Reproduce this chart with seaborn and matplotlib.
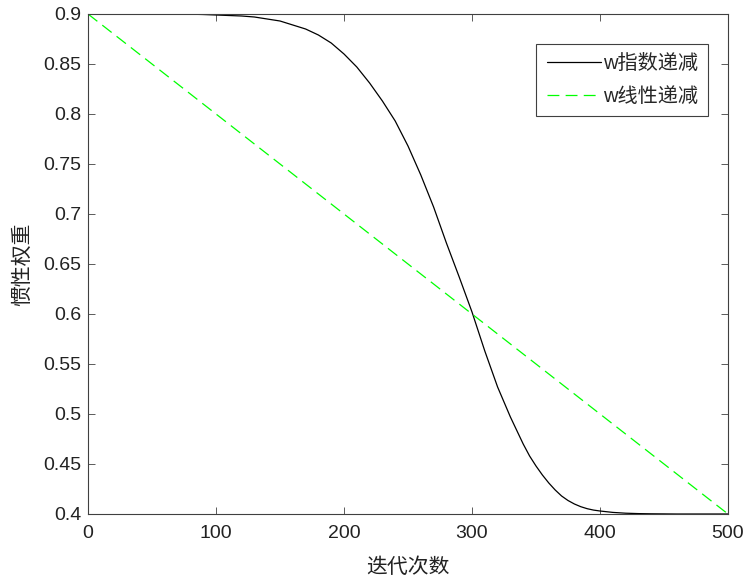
import matplotlib
matplotlib.use('Agg')
import matplotlib.pyplot as plt
import seaborn as sns

# iterations and weights
iters = [0, 10, 20, 30, 40, 50, 60, 70, 80, 90,
         100, 110, 120, 130, 140, 150, 160, 170, 180, 190,
         200, 210, 220, 230, 240, 250, 260, 270, 280, 290,
         300, 310, 320, 330, 340, 345, 350, 355, 360, 365, 370, 375, 380, 385, 390,
         395, 400, 410, 420, 430, 440, 450, 460, 470, 480, 490, 500]
w_exp = [0.9, 0.9, 0.9, 0.9, 0.9, 0.9, 0.9, 0.8999, 0.8998, 0.8995,
         0.899, 0.8985, 0.898, 0.897, 0.895, 0.893, 0.889, 0.885, 0.879, 0.871,
         0.860, 0.847, 0.831, 0.813, 0.793, 0.768, 0.739, 0.707, 0.671, 0.637,
         0.602, 0.563, 0.527, 0.497, 0.470, 0.458, 0.448, 0.439, 0.431, 0.424, 0.418, 0.4135, 0.410, 0.4073, 0.4053,
         0.4039, 0.403, 0.4016, 0.4008, 0.4004, 0.4002, 0.4001, 0.4, 0.4, 0.4, 0.4, 0.4]
lin_iters = [0, 500]
w_lin = [0.9, 0.4]

labels = ['w指数递减', 'w线性递减']
xticks = [0, 100, 200, 300, 400, 500]
yticks = [0.4, 0.45, 0.5, 0.55, 0.6, 0.65, 0.7, 0.75, 0.8, 0.85, 0.9]

sns.set_style('ticks')
plt.rcParams['font.family'] = ['Liberation Sans', 'Noto Sans CJK SC']
plt.rcParams['axes.unicode_minus'] = False

fig = plt.figure(figsize=(7.46, 5.78), dpi=100)
ax = fig.add_axes([88 / 746, 1 - 514 / 578, 640 / 746, 500 / 578])

sns.lineplot(x=iters, y=w_exp, color='black', linewidth=0.9, label=labels[0], ax=ax)
sns.lineplot(x=lin_iters, y=w_lin, color='#00ff00', linewidth=0.9, label=labels[1], ax=ax,
             dashes=False)
ax.lines[1].set_dashes((9.5, 5))

ax.set_xlim(0, 500)
ax.set_ylim(0.4, 0.9)
ax.set_xticks(xticks)
ax.set_yticks(yticks)
ax.set_yticklabels([f'{v:g}' for v in yticks])
ax.tick_params(direction='in', length=5, width=0.6, color='#404040', labelsize=14,
               top=True, right=True, labelcolor='#222222')
ax.tick_params(axis='x', pad=8)
ax.tick_params(axis='y', pad=5)
for s in ax.spines.values():
    s.set_color('#404040')
    s.set_linewidth(0.8)

ax.set_xlabel('迭代次数', fontsize=15, family=['Noto Sans CJK SC'], labelpad=10, color='#222222')
ax.set_ylabel('惯性权重', fontsize=15, family=['Noto Sans CJK SC'], labelpad=7, color='#222222')

leg = ax.legend(loc='upper right', bbox_to_anchor=((708 - 88) / 640, 1 - 30 / 500),
                borderaxespad=0, fontsize=14.5,
                frameon=True, fancybox=False, framealpha=1, edgecolor='#404040',
                handlelength=2.7, handletextpad=0.1, borderpad=0.5, labelspacing=0.7)
leg.get_frame().set_linewidth(0.8)

fig.savefig('out.png', dpi=100)
